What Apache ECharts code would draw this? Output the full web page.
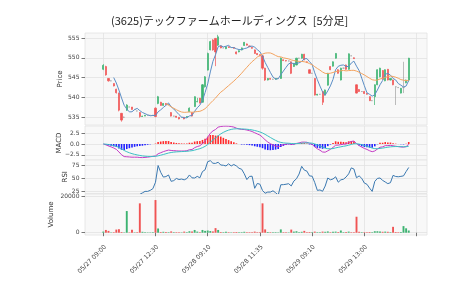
<!DOCTYPE html>
<html><head><meta charset="utf-8">
<script src="https://cdn.jsdelivr.net/npm/echarts@6/dist/echarts.min.js"></script>
<style>html,body{margin:0;padding:0;background:#fff}#c{width:474px;height:284px}</style>
</head><body><div id="c"></div>
<script>
// ---- data (5-minute bars) ----
const tickLabels = ['05/27 09:00','05/27 12:30','05/28 09:10','05/28 11:35','05/29 09:10','05/29 13:00',''];
const tickStep = 20;
const priceTicks = [535,540,545,550,555];
const macdTicks = [-2.5,0,2.5];
const rsiTicks = [25,50,75];
const volTicks = [0,20000];

const opens = [547.1,547.8,544.8,544.2,543.5,542.1,541.1,536.0,535.0,536.8,537.6,537.6,537.0,536.6,536.2,535.2,535.3,535.5,535.5,535.5,
537.3,538.5,538.8,538.0,538.5,538.2,536.2,535.3,535.3,535.0,535.0,535.0,535.0,536.4,536.2,537.7,538.9,539.8,538.8,542.7,
546.9,552.0,554.5,554.9,553.2,553.0,552.5,552.3,552.8,552.6,552.6,551.5,551.5,552.0,553.1,553.5,553.0,552.6,552.0,551.1,
550.8,550.5,547.4,544.4,544.8,544.6,544.6,544.8,544.8,549.5,549.3,549.2,549.0,547.8,548.2,549.9,549.9,550.9,549.0,547.0,
546.1,544.8,540.6,540.8,541.5,540.6,543.1,547.8,547.9,549.9,547.0,544.4,547.4,548.2,547.1,550.5,550.0,543.2,542.0,541.5,
541.5,541.0,540.2,539.2,540.2,543.2,545.2,546.8,544.2,547.1,544.4,544.4,542.7,542.5,541.1,542.5,543.7,544.4];
const closes = [548.1,545.7,544.2,544.2,542.9,541.2,536.8,534.3,535.0,538.1,537.6,537.0,537.0,536.6,535.2,535.3,535.5,535.5,535.5,535.5,
535.2,540.2,538.0,538.5,538.2,538.2,535.3,535.3,535.0,534.6,535.0,534.6,535.2,537.3,535.3,540.2,539.0,538.6,543.2,545.2,
551.1,554.1,552.0,551.5,555.3,552.5,552.5,552.8,552.6,552.6,552.4,551.0,551.8,552.5,553.9,553.2,552.8,552.4,551.1,550.8,
550.5,547.4,544.4,544.8,544.6,544.6,544.8,544.8,549.9,549.3,549.2,549.2,546.1,548.6,549.9,549.9,550.9,549.5,548.8,546.1,
546.1,540.6,540.8,540.8,538.8,541.9,546.1,547.0,549.0,551.1,546.1,547.4,547.4,547.1,551.0,550.5,549.8,541.1,541.5,541.5,
541.0,540.8,539.2,539.2,543.2,547.0,547.4,544.6,547.0,544.4,544.8,543.2,542.7,542.5,542.3,542.5,544.4,549.9];
const lows = [546.9,545.5,544.0,544.1,542.8,541.0,536.5,533.9,534.8,536.6,537.5,536.9,537.0,536.5,534.9,535.1,535.3,535.4,535.5,535.4,
535.0,538.3,537.9,537.9,538.1,538.1,535.2,535.2,534.9,534.5,534.9,534.5,534.9,536.3,535.2,537.6,538.8,538.5,538.7,542.5,
546.8,551.9,551.8,547.9,553.0,552.4,552.4,552.2,552.5,552.6,552.3,550.9,551.4,551.9,553.0,553.1,552.7,552.3,551.0,550.7,
550.4,547.0,544.2,544.3,544.5,544.5,544.5,544.7,544.7,549.2,549.1,549.1,545.9,547.7,548.1,549.8,549.8,549.4,548.7,546.0,
546.0,540.5,540.5,540.7,538.1,540.5,543.0,546.9,547.8,549.8,546.0,544.3,547.3,547.0,547.0,550.4,549.7,541.0,541.4,541.4,
540.9,540.7,539.1,539.1,538.1,543.1,545.1,544.5,544.1,544.3,544.3,543.1,538.1,542.4,541.0,541.1,543.6,544.0];
const highs = [548.4,548.0,544.9,544.3,543.6,542.2,541.2,536.1,535.2,538.3,537.7,537.6,537.1,536.7,536.3,535.4,535.6,535.6,535.5,535.6,
537.5,540.4,538.9,538.6,538.6,538.3,536.3,535.4,535.3,535.0,535.1,535.1,535.3,537.5,536.3,540.3,539.9,539.9,543.4,545.4,
551.3,554.3,554.7,555.0,555.8,553.1,552.6,552.9,552.9,552.6,552.7,551.6,551.9,552.6,554.0,553.6,553.1,552.7,552.1,551.2,
550.9,550.7,547.5,544.9,544.9,544.7,544.9,544.9,550.1,549.6,549.4,549.3,549.1,548.7,550.0,550.0,551.0,551.0,549.1,547.1,
546.2,544.9,540.9,540.9,541.6,542.0,546.2,547.9,549.1,551.2,547.1,547.5,547.5,548.3,551.1,550.6,550.1,543.3,542.1,541.6,
541.6,541.1,540.3,539.3,543.3,547.1,547.5,546.9,547.1,547.2,544.9,544.5,542.8,542.6,542.4,549.0,544.5,550.0];
const volumes = [600,1500,1000,200,300,1700,1900,400,200,11800,200,1600,200,300,16000,500,200,200,200,300,
17800,2300,400,500,400,300,700,300,300,200,200,600,300,800,700,1500,600,300,1500,1000,
1200,900,700,2500,1500,400,300,500,300,200,300,400,300,300,500,300,300,300,600,300,
300,16000,1800,400,300,200,300,200,1800,300,300,200,1700,600,800,300,500,1000,300,400,
300,600,300,300,600,500,700,300,500,600,400,1200,300,400,600,300,300,8700,500,300,
300,300,400,300,800,800,600,500,600,500,300,3200,400,300,400,3600,2400,1200];

// ---- indicators derived from closes ----
function sma(a,n){return a.map((_,i)=>{if(i<n-1)return '-';let s=0;for(let j=i-n+1;j<=i;j++)s+=a[j];return s/n;});}
function ema(a,n){const k=2/(n+1);let p=a[0];return a.map((v,i)=>{p=i===0?v:v*k+p*(1-k);return p;});}
const ma5=sma(closes,5), ma25=sma(closes,25);
const e12=ema(closes,12), e26=ema(closes,26);
const macd=e12.map((v,i)=>v-e26[i]);
const signal=ema(macd,9);
const hist=macd.map((v,i)=>v-signal[i]);
const rsi=closes.map((c,i)=>{if(i<14)return '-';let g=0,l=0;for(let j=i-13;j<=i;j++){const d=closes[j]-closes[j-1];if(d>0)g+=d;else l-=d;}return l===0?100:100-100/(1+g/l);});

const UP='#3cb371', DOWN='#f05454', DOJI='#a0a0a0';
const PAD=7, N=closes.length, M=N+2*PAD;
const cats=[];for(let k=0;k<M;k++)cats.push(String(k));
const pad=a=>Array(PAD).fill('-').concat(a,Array(PAD).fill('-'));
const isTick=k=>k>=PAD&&(k-PAD)%tickStep===0;
const candleData=pad(opens.map((o,i)=>[o,closes[i],lows[i],highs[i]]));
const volData=pad(volumes.map((v,i)=>{const c=closes[i],o=opens[i];let up=c>o||(c===o&&(i===0||c>=closes[i-1]));return {value:v,itemStyle:{color:up?UP:DOWN}};}));
const histData=pad(hist.map(v=>({value:v,itemStyle:{color:v>=0?'#ff2a2a':'#2222ff'}})));

const GL=85, GW=342;
const grids=[{top:33,height:92},{top:126,height:34},{top:160,height:33.5},{top:194,height:41}].map(g=>Object.assign({left:GL,width:GW,show:true,backgroundColor:'#f8f8f8',borderColor:'#e2e2e2',borderWidth:0.8},g));
const lab={fontSize:6,color:'#444',fontFamily:'DejaVu Sans'};
const xAxes=grids.map((g,gi)=>({type:'category',gridIndex:gi,data:cats,boundaryGap:false,
  axisLine:{show:false},
  axisTick:{show:gi===3,interval:(k)=>isTick(k),length:3.5,lineStyle:{color:'#555',width:0.8}},
  axisLabel:{show:gi===3,interval:(k)=>isTick(k),rotate:45,margin:9,verticalAlign:'top',...lab,fontSize:6.2,formatter:(v,k)=>isTick(k)?(tickLabels[(k-PAD)/tickStep]||''):''},
  splitLine:{show:true,interval:(k)=>isTick(k),lineStyle:{color:'#e2e2e2',width:0.8}}}));
function yAx(gi,min,max,ticks,name,gap,fmt){return {type:'value',gridIndex:gi,min:min,max:max,
  name:name,nameLocation:'middle',nameRotate:90,nameGap:gap,nameMoveOverlap:false,nameTextStyle:{fontSize:7,color:'#333',fontFamily:'DejaVu Sans'},
  axisLine:{show:false},
  axisTick:{show:true,length:3.5,customValues:ticks,lineStyle:{color:'#555',width:0.8}},
  axisLabel:{customValues:ticks,margin:5.5,...lab,formatter:fmt||(v=>String(v))},
  splitLine:{show:true,lineStyle:{color:'#e2e2e2',width:0.8}}};}
const yAxes=[
  yAx(0,533.06,556.26,priceTicks,'Price',21),
  yAx(1,-3.69,4.15,macdTicks,'MACD',22.5,v=>(v<0?'\u2212':'')+Math.abs(v).toFixed(1)),
  yAx(2,20.2,84.6,rsiTicks,'RSI',16.5),
  yAx(3,-1250,21090,volTicks,'Volume',30)
];
const line=(xi,data,color)=>({type:'line',xAxisIndex:xi,yAxisIndex:xi,data:pad(data),showSymbol:false,symbol:'none',lineStyle:{color:color,width:1},silent:true});
const chart=echarts.init(document.getElementById('c'),null,{renderer:'canvas'});
chart.setOption({
  animation:false,
  title:{text:'(3625)テックファームホールディングス  [5分足]',left:111,top:15,padding:0,textStyle:{fontSize:11,fontWeight:'normal',color:'#222',fontFamily:'Noto Sans CJK JP'}},
  grid:grids,xAxis:xAxes,yAxis:yAxes,
  series:[
    {type:'candlestick',xAxisIndex:0,yAxisIndex:0,data:candleData,barWidth:1.6,
     itemStyle:{color:UP,color0:DOWN,borderColor:UP,borderColor0:DOWN,borderColorDoji:DOJI,borderWidth:0.7}},
    line(0,ma5,'#5b8ec6'),
    line(0,ma25,'#f4a460'),
    {type:'bar',xAxisIndex:1,yAxisIndex:1,data:histData,barWidth:1.6},
    line(1,macd,'#c43cc4'),
    line(1,signal,'#3cc0c4'),
    line(2,rsi,'#3a78b0'),
    {type:'bar',xAxisIndex:3,yAxisIndex:3,data:volData,barWidth:1.9}
  ]
});
</script></body></html>
